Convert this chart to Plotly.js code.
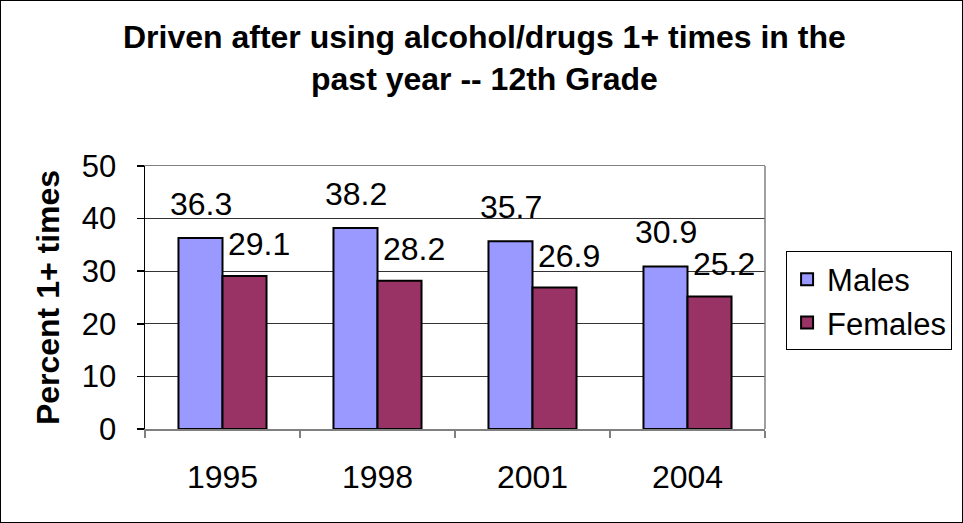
<!DOCTYPE html>
<html>
<head>
<meta charset="utf-8">
<script src="https://cdn.plot.ly/plotly-3.0.1.min.js"></script>
<style>
  html, body { margin: 0; padding: 0; background: #fff; }
  #chart { width: 961px; height: 521px; border: 1px solid #000; }
</style>
</head>
<body>
<div id="chart"></div>
<script>
const years = ['1995', '1998', '2001', '2004'];
const males = [36.3, 38.2, 35.7, 30.9];
const females = [29.1, 28.2, 26.9, 25.2];
const seriesNames = ['Males', 'Females'];
const yTicks = [0, 10, 20, 30, 40, 50];

const FONT = 'Liberation Sans, Arial, sans-serif';

const traces = [
  {
    type: 'bar', name: seriesNames[0], x: years, y: males,
    marker: { color: '#9999FF', line: { color: '#000', width: 2 } },
    hoverinfo: 'skip'
  },
  {
    type: 'bar', name: seriesNames[1], x: years, y: females,
    marker: { color: '#993366', line: { color: '#000', width: 2 } },
    hoverinfo: 'skip'
  }
];

const annotations = [];
years.forEach((yr, i) => {
  annotations.push({
    x: i, y: males[i], xref: 'x', yref: 'y', text: String(males[i]),
    showarrow: false, xshift: -22, yshift: 34, yanchor: 'middle', xanchor: 'center',
    font: { family: FONT, size: 32, color: '#000' }
  });
  annotations.push({
    x: i, y: females[i], xref: 'x', yref: 'y', text: String(females[i]),
    showarrow: false, xshift: 36, yshift: 32, yanchor: 'middle', xanchor: 'center',
    font: { family: FONT, size: 32, color: '#000' }
  });
});

const layout = {
  width: 961, height: 521,
  margin: { l: 144, r: 197, t: 165, b: 93, autoexpand: false },
  paper_bgcolor: '#fff', plot_bgcolor: '#fff',
  font: { family: FONT, size: 31, color: '#000' },
  title: {
    text: 'Driven after using alcohol/drugs 1+ times in the<br>past year -- 12th Grade',
    font: { family: FONT, size: 32, weight: 'bold', color: '#000' },
    x: 0.503, xanchor: 'center', xref: 'container',
    y: 1 - 47 / 521, yanchor: 'top', yref: 'container'
  },
  barmode: 'group',
  bargap: 0.432,
  bargroupgap: 0,
  showlegend: true,
  legend: {
    x: 1.034, xanchor: 'left', y: 0.675, yanchor: 'top',
    bgcolor: '#fff', bordercolor: '#000', borderwidth: 1,
    font: { family: FONT, size: 31, color: '#000' },
    tracegroupgap: 0, itemclick: false
  },
  xaxis: {
    type: 'category',
    range: [-0.5, years.length - 0.5],
    showgrid: false,
    showline: true, linecolor: '#808080', linewidth: 1.5, mirror: true,
    ticks: 'outside', tickson: 'boundaries', ticklen: 7, tickcolor: '#808080', tickwidth: 1.5,
    tickfont: { family: FONT, size: 32, color: '#000' },
    tickangle: 0,
    ticklabelstandoff: 19,
    fixedrange: true
  },
  yaxis: {
    range: [0, 50],
    tickvals: yTicks,
    ticktext: yTicks.map(String),
    showgrid: true, gridcolor: '#333', gridwidth: 1,
    zeroline: false,
    showline: true, linecolor: '#000', linewidth: 1.5,
    ticks: 'outside', ticklen: 7, tickcolor: '#000', tickwidth: 1.5,
    tickfont: { family: FONT, size: 31, color: '#000' },
    ticklabelstandoff: 14,
    title: { text: 'Percent 1+ times', font: { family: FONT, size: 32, weight: 'bold', color: '#000' }, standoff: 12 },
    fixedrange: true
  },
  shapes: [
    { type: 'line', xref: 'paper', yref: 'paper', x0: 1, x1: 1, y0: 0, y1: 1,
      line: { color: '#808080', width: 1.5 }, layer: 'above' }
  ],
  annotations: annotations
};

Plotly.newPlot('chart', traces, layout, { staticPlot: true, displayModeBar: false });
</script>
</body>
</html>
